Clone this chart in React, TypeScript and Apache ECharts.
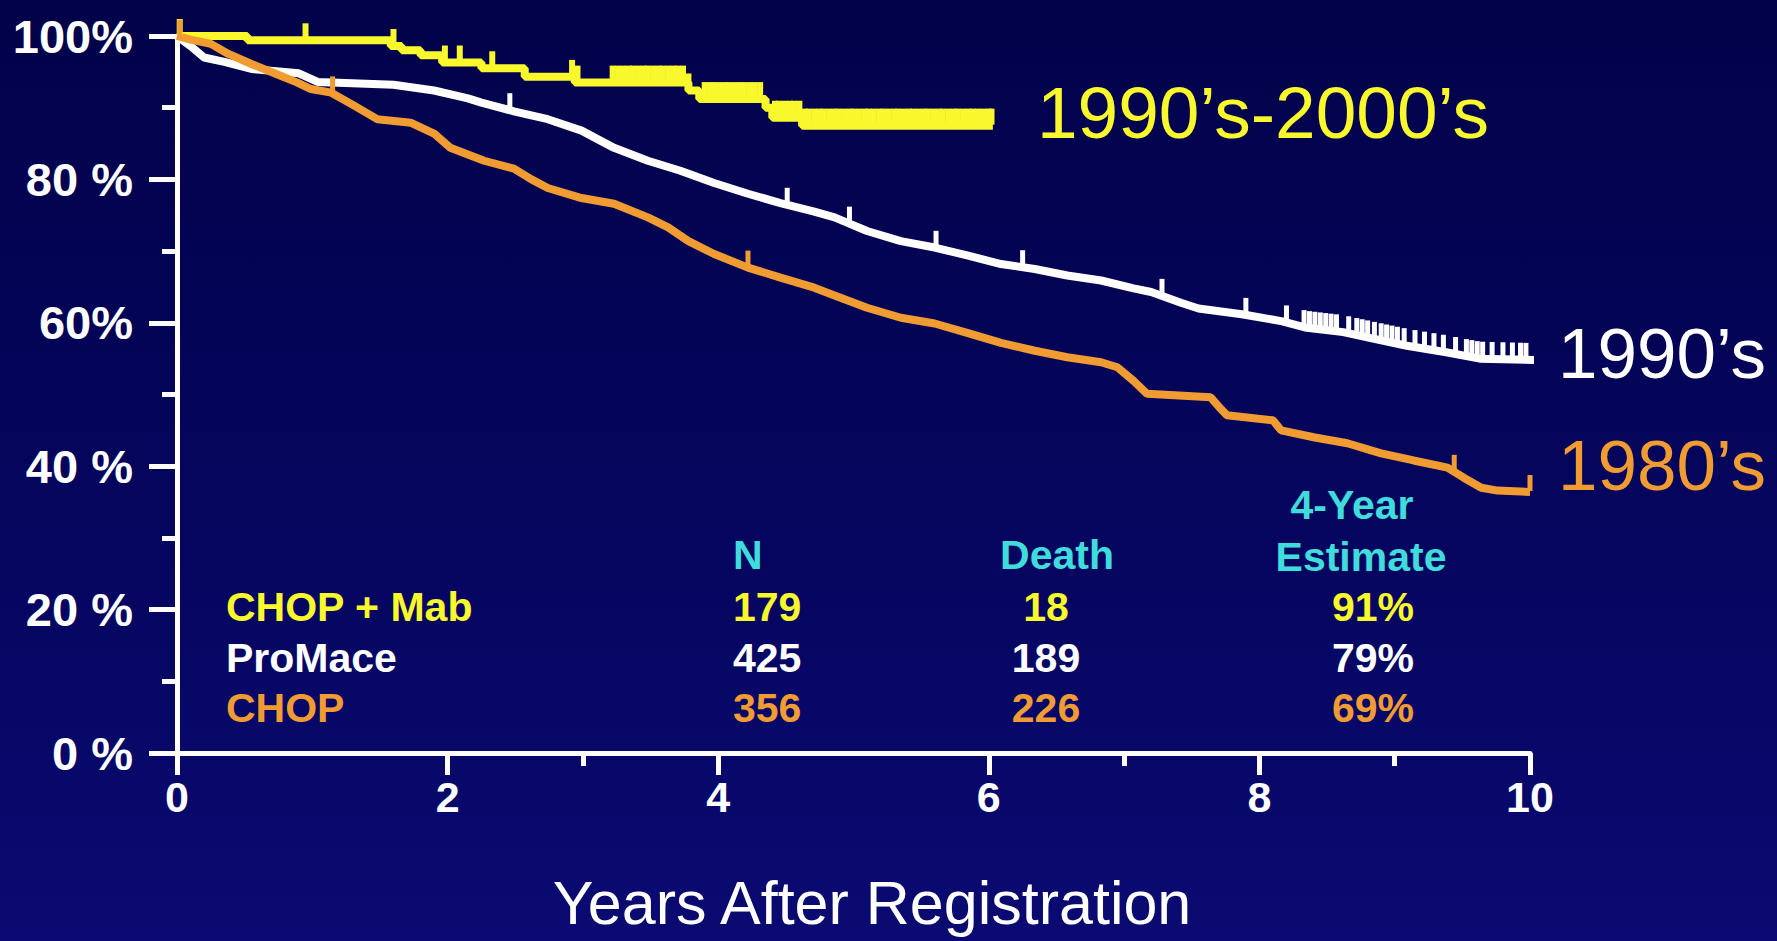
import React, { useEffect, useRef } from "react";
import * as echarts from "echarts";

// ---------- data ----------
const yTickLabels = ["0 %", "20 %", "40 %", "60%", "80 %", "100%"];
const xMinorTicks = [3, 7, 9];

// CHOP + Mab (1990's-2000's)
const yearsYellow = [0, 0.52, 1.58, 1.66, 1.8, 1.96, 2.25, 2.57, 2.94, 3.78, 3.86, 4.35, 4.4, 4.62, 6.03];
const survYellow = [100, 99.4, 98.6, 98.0, 97.3, 96.3, 95.5, 94.3, 93.5, 92.4, 91.2, 90.0, 88.6, 87.5, 87.5];
const censorYellow = [
  0.02, 0.95, 1.6, 1.98, 2.09, 2.33, 2.92, 2.96, 3.22, 3.26,
  3.3, 3.34, 3.37, 3.41, 3.45, 3.48, 3.52, 3.56, 3.59, 3.63, 3.67, 3.7, 3.74, 3.78,
  3.9, 3.94, 3.97, 4.01, 4.05, 4.08, 4.12, 4.16, 4.19, 4.23, 4.27, 4.31,
  4.42, 4.45, 4.49, 4.53, 4.56, 4.6, 4.64, 4.67, 4.71, 4.75, 4.78, 4.82, 4.86, 4.89,
  4.93, 4.97, 5.0, 5.04, 5.08, 5.11, 5.15, 5.19, 5.22, 5.26, 5.3, 5.33, 5.37, 5.41,
  5.44, 5.48, 5.52, 5.55, 5.59, 5.63, 5.66, 5.7, 5.74, 5.77, 5.81, 5.85, 5.88, 5.92,
  5.96, 6.0, 6.02,
];

// ProMace (1990's)
const yearsWhite = [0, 0.1, 0.2, 0.35, 0.55, 0.9, 1.04, 1.6, 1.9, 2.15, 2.25, 2.49, 2.74, 2.99, 3.23, 3.48, 3.72, 3.97, 4.22, 4.46, 4.71, 4.86, 5.1, 5.35, 5.6, 5.84, 6.09, 6.34, 6.58, 6.83, 7.07, 7.2, 7.42, 7.55, 7.87, 8.17, 8.35, 8.62, 8.84, 9.09, 9.38, 9.63, 10.03];
const survWhite = [100, 98.6, 97.0, 96.4, 95.4, 94.8, 93.6, 93.2, 92.4, 91.3, 90.7, 89.5, 88.4, 86.8, 84.4, 82.6, 81.2, 79.5, 78.0, 76.7, 75.5, 74.7, 72.8, 71.4, 70.5, 69.4, 68.2, 67.5, 66.6, 65.9, 64.8, 64.3, 62.8, 62.0, 61.2, 60.2, 59.3, 58.7, 57.8, 56.8, 55.9, 55.0, 54.8];
const censorWhite = [
  2.46, 4.51, 4.97, 5.61, 6.25, 7.28, 7.9, 8.2, 8.33, 8.37, 8.41, 8.45, 8.49, 8.53, 8.57,
  8.66, 8.72, 8.76, 8.8, 8.85, 8.9, 8.94, 8.98, 9.02, 9.07, 9.15, 9.22, 9.29, 9.36, 9.45,
  9.53, 9.57, 9.61, 9.65, 9.72, 9.8, 9.87, 9.93, 9.97, 10.02,
];

// CHOP (1980's)
const yearsOrange = [0, 0.1, 0.25, 0.38, 0.55, 0.72, 0.89, 0.99, 1.14, 1.29, 1.48, 1.73, 1.9, 2.02, 2.27, 2.49, 2.62, 2.74, 2.99, 3.23, 3.48, 3.63, 3.78, 3.97, 4.22, 4.46, 4.71, 4.86, 5.1, 5.35, 5.6, 5.84, 6.09, 6.34, 6.58, 6.83, 6.95, 7.07, 7.17, 7.64, 7.7, 7.76, 8.1, 8.16, 8.41, 8.65, 8.9, 9.14, 9.39, 9.51, 9.64, 9.76, 10.0];
const survOrange = [100, 99.5, 98.9, 97.5, 96.1, 94.8, 93.5, 92.6, 92.1, 90.5, 88.4, 87.9, 86.4, 84.4, 82.6, 81.5, 80.0, 78.8, 77.4, 76.6, 74.7, 73.3, 71.4, 69.6, 67.7, 66.3, 64.9, 63.8, 62.1, 60.7, 59.9, 58.6, 57.2, 56.1, 55.2, 54.5, 53.8, 51.9, 50.1, 49.6, 48.3, 47.1, 46.4, 45.0, 44.0, 43.2, 41.8, 40.8, 39.8, 38.4, 37.0, 36.6, 36.4];
const censorOrange = [0.02, 1.15, 4.22, 9.44, 10.0];

// table
const tableGroups = ["CHOP + Mab", "ProMace", "CHOP"];
const tableN = ["179", "425", "356"];
const tableDeaths = ["18", "189", "226"];
const tableEstimates = ["91%", "79%", "69%"];
const tableHeaders = ["N", "Death", "4-Year", "Estimate"];
const curveLabels = ["1990\u2019s-2000\u2019s", "1990\u2019s", "1980\u2019s"];
const xAxisTitle = "Years After Registration";

// ---------- styles ----------
const YELLOW = "#f8f82c";
const WHITE = "#ffffff";
const ORANGE = "#f09c32";
const CYAN = "#40dcdc";
const rowColors = [YELLOW, WHITE, ORANGE];
const FONT = '"Liberation Sans", Arial, sans-serif';

function stepAt(xs: number[], ys: number[], t: number) {
  let v = ys[0];
  for (let i = 0; i < xs.length; i++) if (xs[i] <= t) v = ys[i];
  return v;
}
function linAt(xs: number[], ys: number[], t: number) {
  if (t <= xs[0]) return ys[0];
  for (let i = 1; i < xs.length; i++) {
    if (t <= xs[i]) {
      const f = (t - xs[i - 1]) / (xs[i] - xs[i - 1]);
      return ys[i - 1] + f * (ys[i] - ys[i - 1]);
    }
  }
  return ys[ys.length - 1];
}

const pairs = (xs: number[], ys: number[]) => xs.map((x, i) => [x, ys[i]]);

function censorSeries(name: string, color: string, data: number[][], w: number) {
  return {
    name,
    type: "scatter",
    data,
    symbol: "rect",
    symbolSize: [w, 16],
    symbolOffset: [0, -9],
    itemStyle: { color, opacity: 1 },
    z: 5,
    silent: true,
  };
}

function txt(text: string, x: number, y: number, color: string, size: number, weight: string, align: string) {
  return {
    type: "text",
    x,
    y,
    silent: true,
    style: {
      text,
      fill: color,
      fontSize: size,
      fontWeight: weight,
      fontFamily: FONT,
      align,
      verticalAlign: "middle",
      textAlign: align,
      textVerticalAlign: "middle",
    },
  };
}

export default function App() {
  const ref = useRef<HTMLDivElement>(null);
  useEffect(() => {
    if (!ref.current) return;
    const chart = echarts.init(ref.current, null, { renderer: "svg" });
    const axisColor = WHITE;
    const rowY = [607, 658, 708];
    const graphics: any[] = [];
    tableGroups.forEach((g, i) => graphics.push(txt(g, 226, rowY[i], rowColors[i], 41, "bold", "left")));
    tableN.forEach((g, i) => graphics.push(txt(g, 733, rowY[i], rowColors[i], 41, "bold", "left")));
    tableDeaths.forEach((g, i) => graphics.push(txt(g, 1046, rowY[i], rowColors[i], 41, "bold", "center")));
    tableEstimates.forEach((g, i) => graphics.push(txt(g, 1373, rowY[i], rowColors[i], 41, "bold", "center")));
    graphics.push(txt(tableHeaders[0], 733, 555, CYAN, 41, "bold", "left"));
    graphics.push(txt(tableHeaders[1], 1057, 555, CYAN, 41, "bold", "center"));
    graphics.push(txt(tableHeaders[2], 1352, 505, CYAN, 41, "bold", "center"));
    graphics.push(txt(tableHeaders[3], 1361, 557, CYAN, 41, "bold", "center"));
    graphics.push(txt(curveLabels[0], 1037, 112, YELLOW, 73, "normal", "left"));
    graphics.push(txt(curveLabels[1], 1558, 353, WHITE, 71, "normal", "left"));
    graphics.push(txt(curveLabels[2], 1558, 465, ORANGE, 71, "normal", "left"));
    graphics.push(txt(xAxisTitle, 872, 903, WHITE, 61, "normal", "center"));

    const option: any = {
      animation: false,
      backgroundColor: "transparent",
      grid: { left: 177, right: 247, top: 36, bottom: 188, containLabel: false },
      xAxis: [
        {
          type: "value",
          min: 0,
          max: 10,
          interval: 2,
          position: "bottom",
          axisLine: { show: true, lineStyle: { color: axisColor, width: 5 } },
          axisTick: { show: true, length: 22, lineStyle: { color: axisColor, width: 5 } },
          axisLabel: { show: true, color: WHITE, fontSize: 43, fontWeight: "bold", fontFamily: FONT, margin: 22 },
          splitLine: { show: false },
        },
        {
          type: "value",
          min: 0,
          max: 10,
          position: "bottom",
          offset: 0,
          axisLine: { show: false },
          axisTick: { show: true, customValues: xMinorTicks, length: 13, lineStyle: { color: axisColor, width: 5 } },
          axisLabel: { show: false },
          splitLine: { show: false },
        },
      ],
      yAxis: {
        type: "value",
        min: 0,
        max: 100,
        interval: 20,
        axisLine: { show: true, lineStyle: { color: axisColor, width: 5 } },
        axisTick: { show: true, length: 28, lineStyle: { color: axisColor, width: 5 } },
        minorTick: { show: true, splitNumber: 2, length: 15, lineStyle: { color: axisColor, width: 5 } },
        axisLabel: {
          color: WHITE,
          fontSize: 47,
          fontWeight: "bold",
          fontFamily: FONT,
          margin: 44,
          formatter: (v: number) => yTickLabels[Math.round(v / 20)] ?? "",
        },
        splitLine: { show: false },
        minorSplitLine: { show: false },
      },
      series: [
        {
          name: "CHOP + Mab",
          type: "line",
          step: "end",
          data: pairs(yearsYellow, survYellow),
          showSymbol: false,
          lineStyle: { color: YELLOW, width: 8 },
          z: 3,
          silent: true,
        },
        {
          name: "ProMace",
          type: "line",
          data: pairs(yearsWhite, survWhite),
          showSymbol: false,
          lineStyle: { color: WHITE, width: 8 },
          z: 3,
          silent: true,
        },
        {
          name: "CHOP",
          type: "line",
          data: pairs(yearsOrange, survOrange),
          showSymbol: false,
          lineStyle: { color: ORANGE, width: 8 },
          z: 4,
          silent: true,
        },
        censorSeries("CHOP + Mab censored", YELLOW, censorYellow.map((t) => [t, stepAt(yearsYellow, survYellow, t)]), 6),
        censorSeries("ProMace censored", WHITE, censorWhite.map((t) => [t, linAt(yearsWhite, survWhite, t)]), 5),
        censorSeries("CHOP censored", ORANGE, censorOrange.map((t) => [t, linAt(yearsOrange, survOrange, t)]), 5),
      ],
      graphic: graphics,
    };
    chart.setOption(option);
    return () => chart.dispose();
  }, []);
  return (
    <div
      ref={ref}
      style={{
        position: "fixed",
        left: 0,
        top: 0,
        width: 1777,
        height: 941,
        background: "linear-gradient(180deg, #02024a 0%, #05055e 55%, #0a0a72 100%)",
      }}
    />
  );
}
